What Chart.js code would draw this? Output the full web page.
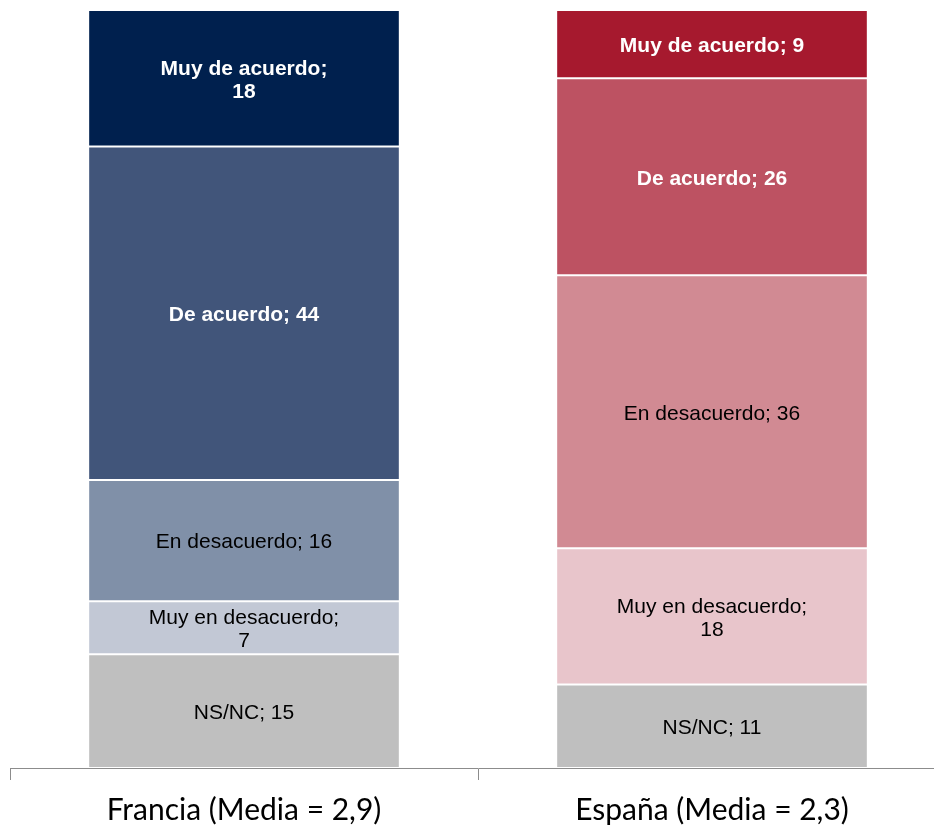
<!DOCTYPE html>
<html>
<head>
<meta charset="utf-8">
<script src="https://cdn.jsdelivr.net/npm/chart.js@4/dist/chart.umd.min.js"></script>
<style>
    html, body { margin: 0; padding: 0; background: #fff; overflow: hidden; }
    #wrap { width: 934px; height: 825px; overflow: hidden; }
    #box { width: 956px; height: 825px; }
</style>
</head>
<body>
<div id="wrap"><div id="box"><canvas id="chart"></canvas></div></div>
<script>
const categories = ['Francia (Media = 2,9)', 'España (Media = 2,3)'];

// stacked from bottom to top
const seriesNames = ['NS/NC', 'Muy en desacuerdo', 'En desacuerdo', 'De acuerdo', 'Muy de acuerdo'];
const nsnc = [15, 11];
const muyDesacuerdo = [7, 18];
const desacuerdo = [16, 36];
const deAcuerdo = [44, 26];
const muyDeAcuerdo = [18, 9];

// which labels break onto a second line (Francia, España)
const wrapNsnc = [false, false];
const wrapMuyDesacuerdo = [true, true];
const wrapDesacuerdo = [false, false];
const wrapDeAcuerdo = [false, false];
const wrapMuyDeAcuerdo = [true, false];

const seriesValues = [nsnc, muyDesacuerdo, desacuerdo, deAcuerdo, muyDeAcuerdo];
const seriesWrap = [wrapNsnc, wrapMuyDesacuerdo, wrapDesacuerdo, wrapDeAcuerdo, wrapMuyDeAcuerdo];
const seriesColors = [
    ['#BFBFBF', '#BFBFBF'],
    ['#C2C8D5', '#E8C5CB'],
    ['#8090A8', '#D18A93'],
    ['#41557A', '#BD5262'],
    ['#00204E', '#A6192E']
];
const seriesBold = [false, false, false, true, true];

const datasets = seriesNames.map((name, i) => ({
    label: name,
    data: seriesValues[i],
    backgroundColor: seriesColors[i],
    borderColor: '#ffffff',
    borderWidth: { top: 1, bottom: 1, left: 0, right: 0 },
    borderSkipped: false,
    barPercentage: 0.662,
    categoryPercentage: 1
}));

// draw "name; value" inside each segment
const segmentLabels = {
    id: 'segmentLabels',
    afterDatasetsDraw(chart) {
        const ctx = chart.ctx;
        ctx.save();
        ctx.textAlign = 'center';
        ctx.textBaseline = 'middle';
        chart.data.datasets.forEach((ds, i) => {
            const meta = chart.getDatasetMeta(i);
            meta.data.forEach((bar, j) => {
                const v = ds.data[j];
                const lines = seriesWrap[i][j] ? [ds.label + ';', String(v)] : [ds.label + '; ' + v];
                ctx.font = (seriesBold[i] ? 'bold ' : '') + '21px "Liberation Sans", Arial, sans-serif';
                ctx.fillStyle = seriesBold[i] ? '#ffffff' : '#000000';
                const cy = (bar.y + bar.base) / 2 + 2;
                const lh = 23;
                lines.forEach((t, k) => {
                    ctx.fillText(t, bar.x, cy + (k - (lines.length - 1) / 2) * lh);
                });
            });
        });
        ctx.restore();
    }
};

new Chart(document.getElementById('chart'), {
    type: 'bar',
    data: { labels: categories, datasets: datasets },
    options: {
        responsive: true,
        maintainAspectRatio: false,
        animation: false,
        layout: { padding: { left: 10, right: 10, top: 10, bottom: 0 } },
        plugins: {
            legend: { display: false },
            tooltip: { enabled: false }
        },
        scales: {
            x: {
                stacked: true,
                grid: {
                    offset: true,
                    drawOnChartArea: false,
                    drawTicks: true,
                    tickLength: 12,
                    color: '#8C8C8C'
                },
                border: { display: true, color: '#8C8C8C', width: 1 },
                ticks: {
                    color: '#000000',
                    padding: 12,
                    maxRotation: 0,
                    font: { family: 'Lato, "Open Sans", sans-serif', size: 30 }
                },
                afterFit(scale) { scale.height = 57; }
            },
            y: {
                stacked: true,
                display: false,
                min: 0,
                max: 100
            }
        }
    },
    plugins: [segmentLabels]
});
</script>
</body>
</html>
